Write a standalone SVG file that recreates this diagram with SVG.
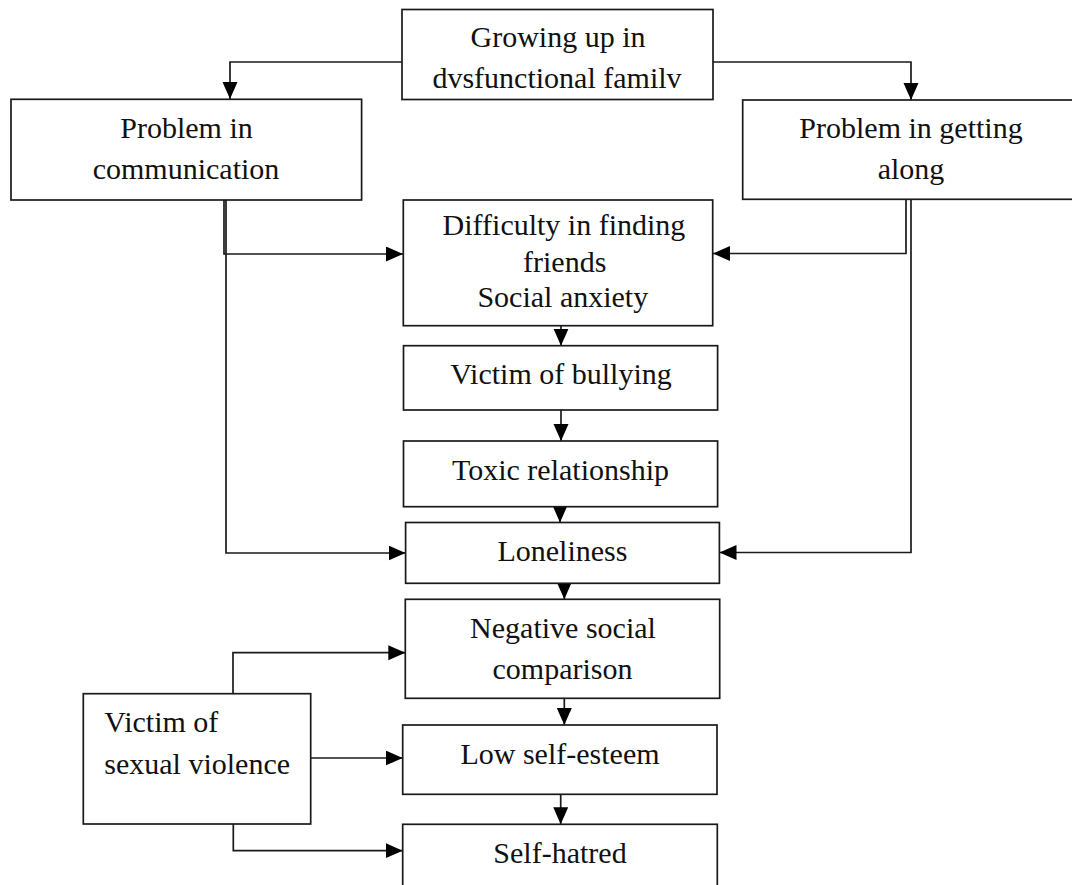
<svg xmlns="http://www.w3.org/2000/svg" width="1072" height="885" viewBox="0 0 1072 885">
<style>
.box{fill:#fff;stroke:#1a1a1a;stroke-width:1.7}
.ln{fill:none;stroke:#1a1a1a;stroke-width:1.7}
.t{font-family:"Liberation Serif","Times New Roman",serif;font-size:30px;fill:#111;text-anchor:middle}
.tl{font-family:"Liberation Serif","Times New Roman",serif;font-size:30px;fill:#111}
</style>
<defs>
<marker id="ah" markerUnits="userSpaceOnUse" markerWidth="18" markerHeight="16" refX="17" refY="7.5" orient="auto">
<path d="M0,0 L17,7.5 L0,15 z" fill="#000"/>
</marker>
</defs>
<rect width="1072" height="885" fill="#fff"/>
<g id="connectors">
<path class="ln" d="M402,62 H230 V99" marker-end="url(#ah)"/>
<path class="ln" d="M713,62 H911 V100" marker-end="url(#ah)"/>
<path class="ln" d="M224,200 V254 H403" marker-end="url(#ah)"/>
<path class="ln" d="M226,179 V553 H405.5" marker-end="url(#ah)"/>
<path class="ln" d="M906,200 V253.5 H713" marker-end="url(#ah)"/>
<path class="ln" d="M911,200 V552.5 H719.5" marker-end="url(#ah)"/>
<path class="ln" d="M561,325.7 V345.7" marker-end="url(#ah)"/>
<path class="ln" d="M561,410 V441" marker-end="url(#ah)"/>
<path class="ln" d="M560,506.7 V522.5" marker-end="url(#ah)"/>
<path class="ln" d="M564.3,583.3 V599.3" marker-end="url(#ah)"/>
<path class="ln" d="M564.3,698.3 V725" marker-end="url(#ah)"/>
<path class="ln" d="M560.7,794.3 V824.3" marker-end="url(#ah)"/>
<path class="ln" d="M233,693.7 V652.7 H405.3" marker-end="url(#ah)"/>
<path class="ln" d="M310.7,758 H402.7" marker-end="url(#ah)"/>
<path class="ln" d="M233.3,824 V850.7 H402.7" marker-end="url(#ah)"/>
</g>
<g id="n-growing">
<rect class="box" x="402" y="9.5" width="311" height="90"/>
<text class="t" x="558" y="47">Growing up in</text>
<text class="t" x="557" y="88">dvsfunctional familv</text>
</g>
<g id="n-communication">
<rect class="box" x="11" y="99.3" width="350.6" height="100.7"/>
<text class="t" x="186.5" y="138.3">Problem in</text>
<text class="t" x="186" y="179">communication</text>
</g>
<g id="n-getting-along">
<rect class="box" x="742.7" y="100" width="340" height="99.3"/>
<text class="t" x="911" y="138.3">Problem in getting</text>
<text class="t" x="911" y="179.3">along</text>
</g>
<g id="n-difficulty">
<rect class="box" x="403.3" y="200" width="309.4" height="125.7"/>
<text class="t" x="564" y="235">Difficulty in finding</text>
<text class="t" x="564.7" y="271.7">friends</text>
<text class="t" x="562.8" y="306.7">Social anxiety</text>
</g>
<g id="n-bullying">
<rect class="box" x="403.5" y="345.7" width="314.1" height="64.3"/>
<text class="t" x="561" y="384.3">Victim of bullying</text>
</g>
<g id="n-toxic">
<rect class="box" x="403.5" y="441" width="314.1" height="65.7"/>
<text class="t" x="560.5" y="480">Toxic relationship</text>
</g>
<g id="n-loneliness">
<rect class="box" x="405.6" y="522.5" width="313.8" height="60.8"/>
<text class="t" x="562.4" y="560.7">Loneliness</text>
</g>
<g id="n-negative">
<rect class="box" x="405.3" y="599.3" width="314.4" height="99"/>
<text class="t" x="563" y="638.3">Negative social</text>
<text class="t" x="562.5" y="679.3">comparison</text>
</g>
<g id="n-sexual-violence">
<rect class="box" x="83.3" y="693.7" width="227.4" height="130.3"/>
<text class="tl" x="104.3" y="731.7">Victim of</text>
<text class="tl" x="104.3" y="774">sexual violence</text>
</g>
<g id="n-low-self-esteem">
<rect class="box" x="402.7" y="725" width="314.3" height="69.3"/>
<text class="t" x="560" y="764.3">Low self-esteem</text>
</g>
<g id="n-self-hatred">
<rect class="box" x="402.7" y="824.3" width="314.6" height="80"/>
<text class="t" x="560" y="862.7">Self-hatred</text>
</g>
</svg>
